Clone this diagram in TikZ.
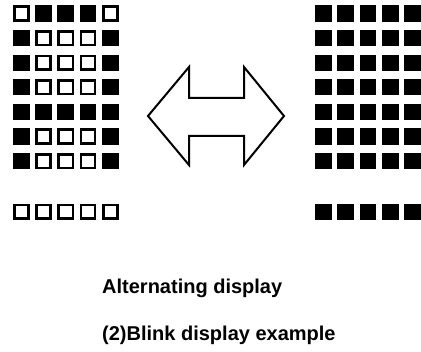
\documentclass[tikz,border=0pt]{standalone}
\usepackage{fontspec}
\setmainfont{Liberation Sans}
\usetikzlibrary{positioning}

\begin{document}
\begin{tikzpicture}[x=1pt, y=-1pt,
        led/.style={rectangle, draw=black, line width=2.6pt, minimum width=14.2pt, minimum height=13.6pt, inner sep=0pt},
        bigarrow/.style={draw=black, line width=2pt, line join=miter, fill=white},
        caption/.style={anchor=base west, inner sep=0pt, font=\fontsize{20}{24}\selectfont\bfseries},
      ]
      \useasboundingbox (0,0) rectangle (421,352);
      \clip (0,0) rectangle (421,352);
      % Left panel: letter pattern
      \foreach \row/\pat in {1/{0,1,1,1,0}, 2/{1,0,0,0,1}, 3/{1,0,0,0,1}, 4/{1,0,0,0,1},
                             5/{1,1,1,1,1}, 6/{1,0,0,0,1}, 7/{1,0,0,0,1}} {
        \foreach \v [count=\col] in \pat {
          \ifnum\v=1 \def\ledfill{black}\else\def\ledfill{white}\fi
          \node [led, fill=\ledfill] (left-\row-\col) at ({21.3+22.25*(\col-1)}, {13.5+24.6*(\row-1)}) {};
        }
      }
      \foreach \col in {1,...,5}
        \node [led, fill=white] (leftbar-\col) at ({21.3+22.25*(\col-1)}, 212) {};
      % Right panel: all lit
      \foreach \row in {1,...,7}
        \foreach \col in {1,...,5}
          \node [led, fill=black] (right-\row-\col) at ({323.5+22.25*(\col-1)}, {13.5+24.6*(\row-1)}) {};
      \foreach \col in {1,...,5}
        \node [led, fill=black] (rightbar-\col) at ({323.5+22.25*(\col-1)}, 212) {};
      % Double arrow
      \draw [bigarrow] (148,116) -- (189,67) -- (189,98) -- (244,98) -- (244,67) -- (284,116)
        -- (244,165) -- (244,136) -- (189,136) -- (189,165) -- cycle;
      % Captions
      \node [caption] (mode) at (102,294) {Alternating display};
      \node [caption] (title) at (102,341) {(2)Blink display example};
    \end{tikzpicture}
\end{document}
